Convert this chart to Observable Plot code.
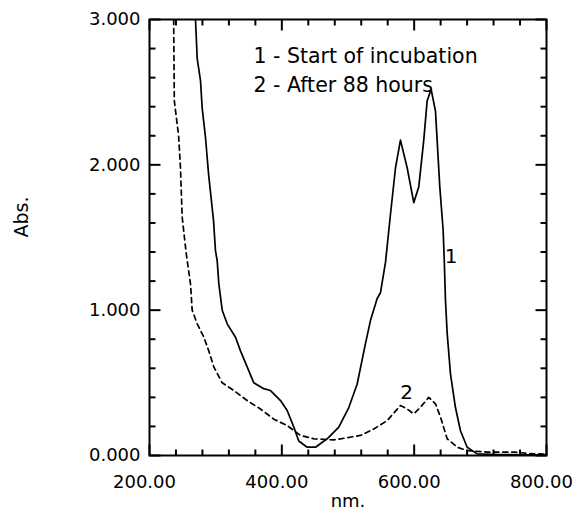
<!DOCTYPE html>
<html><head><meta charset="utf-8">
<script src="https://cdn.jsdelivr.net/npm/d3@7"></script>
<script src="https://cdn.jsdelivr.net/npm/@observablehq/plot@0.6"></script>
<style>
html,body{margin:0;padding:0;background:#fff;}
</style>
</head><body><div id="chart"></div>
<script>
// Curve 1: start of incubation (solid)
const startNm = [269.5,272.1,277.1,279.6,284.6,289.2,296.7,299.7,302.3,304.8,309.9,317.4,330,337.5,347.6,357.6,372.7,382.9,398,408.1,418.1,425.6,438.3,450.9,468.5,486.1,501.2,513.8,526.4,534,544.1,549.1,556.7,564.2,571.8,579.3,589.4,599.4,607,614.5,619.6,625.6,632.2,638.7,643.8,645.5,647.3,649.9,654.9,662.4,670,680.1,695.2,725.4,760,800];
const startAbs = [3.00,2.73,2.58,2.39,2.19,1.94,1.62,1.41,1.34,1.18,1.00,0.906,0.814,0.72,0.61,0.50,0.46,0.447,0.378,0.31,0.195,0.10,0.057,0.057,0.115,0.195,0.33,0.49,0.77,0.93,1.08,1.12,1.33,1.66,1.98,2.17,1.98,1.74,1.85,2.17,2.44,2.52,2.37,1.85,1.55,1.34,1.07,0.84,0.56,0.33,0.17,0.057,0.011,0.007,0.005,0.005];
// Curve 2: after 88 hours (dashed)
const afterNm = [236.5,237.5,244,246.8,249.4,255.5,262,264.5,272.1,282.1,289.6,297.2,309.9,327.5,347.6,367.7,387.9,408.1,428.2,448.3,478.5,518.9,539,559.2,579.3,589.4,599.4,609.5,622.1,632.2,639.8,649.9,665,680.1,710.3,750.5,780.7,800];
const afterAbs = [3.00,2.44,2.20,1.98,1.64,1.39,1.18,1.00,0.906,0.814,0.72,0.61,0.50,0.447,0.378,0.32,0.25,0.206,0.138,0.115,0.107,0.138,0.183,0.24,0.344,0.32,0.287,0.332,0.40,0.356,0.264,0.115,0.057,0.034,0.023,0.023,0.011,0.010];

const xMajorTicks = [200, 400, 600, 800];
const xMinorTicks = [240, 280, 320, 360, 440, 480, 520, 560, 640, 680, 720, 760];
const yMajorTicks = [0, 1, 2, 3];
const yMinorTicks = [0.2, 0.4, 0.6, 0.8, 1.2, 1.4, 1.6, 1.8, 2.2, 2.4, 2.6, 2.8];
const legendLines = ["1 - Start of incubation", "2 - After 88 hours"];
const curveLabels = [{label: "1", nm: 656, abs: 1.37}, {label: "2", nm: 588.5, abs: 0.43}];
const xLabel = "nm.";
const yLabel = "Abs.";

const start = startNm.map((nm, i) => ({nm, abs: startAbs[i]}));
const after = afterNm.map((nm, i) => ({nm, abs: afterAbs[i]}));

const W = 576, H = 513, mL = 149, mR = 30, mT = 19, mB = 58;
const fw = W - mL - mR, fh = H - mT - mB;
const xDom = [200, 800], yDom = [0, 3];
// tick lengths in pixels, expressed in data units through the frame size
const pxX = (xDom[1] - xDom[0]) / fw, pxY = (yDom[1] - yDom[0]) / fh;
const majorLen = 11, minorLen = 6;

// inward tick segments (two points each, grouped by id)
const tickSegs = [];
let sid = 0;
function seg(x1, y1, x2, y2) { tickSegs.push({x: x1, y: y1, id: sid}, {x: x2, y: y2, id: sid}); sid++; }
for (const [ticks, len] of [[xMajorTicks, majorLen], [xMinorTicks, minorLen]]) {
  for (const t of ticks) {
    seg(t, yDom[0], t, yDom[0] + len * pxY);
    seg(t, yDom[1] - len * pxY, t, yDom[1]);
  }
}
for (const [ticks, len] of [[yMajorTicks, majorLen], [yMinorTicks, minorLen]]) {
  for (const t of ticks) {
    seg(xDom[0], t, xDom[0] + len * pxX, t);
    seg(xDom[1] - len * pxX, t, xDom[1], t);
  }
}

const plot = Plot.plot({
  width: W, height: H,
  marginLeft: mL, marginRight: mR, marginTop: mT, marginBottom: mB,
  style: {fontFamily: "DejaVu Sans", fontSize: "18px", color: "#000", background: "#fff"},
  x: {domain: xDom, label: null},
  y: {domain: yDom, label: null},
  marks: [
    Plot.line(start, {x: "nm", y: "abs", stroke: "#000", strokeWidth: 1.7, clip: true}),
    Plot.line(after, {x: "nm", y: "abs", stroke: "#000", strokeWidth: 1.7, strokeDasharray: "5,4", clip: true}),
    Plot.line(tickSegs, {x: "x", y: "y", z: "id", stroke: "#000", strokeWidth: 2, strokeLinecap: "butt"}),
    Plot.frame({stroke: "#000", strokeWidth: 2}),
    // tick labels
    Plot.axisX(xMajorTicks, {anchor: "bottom", tickSize: 0, tickPadding: 20, dx: -5, tickFormat: d3.format(".2f"), label: null, fill: "#000"}),
    Plot.axisY(yMajorTicks, {anchor: "left", tickSize: 0, tickPadding: 9, tickFormat: d3.format(".3f"), label: null, fill: "#000"}),
    // axis titles
    Plot.text([xLabel], {frameAnchor: "bottom", dy: 51, text: d => d, fontSize: 18, fill: "#000"}),
    Plot.text([yLabel], {frameAnchor: "left", dx: -128, rotate: -90, text: d => d, fontSize: 19, fill: "#000"}),
    // legend text
    Plot.text([legendLines.join("\n")], {frameAnchor: "top-left", textAnchor: "start", lineAnchor: "top", dx: 104, dy: 24, lineHeight: 1.37, fontSize: 20.5, fill: "#000", text: d => d}),
    // curve labels
    Plot.text(curveLabels, {x: "nm", y: "abs", text: "label", fontSize: 20, fill: "#000"})
  ]
});
document.getElementById("chart").appendChild(plot);
</script>
</body></html>
